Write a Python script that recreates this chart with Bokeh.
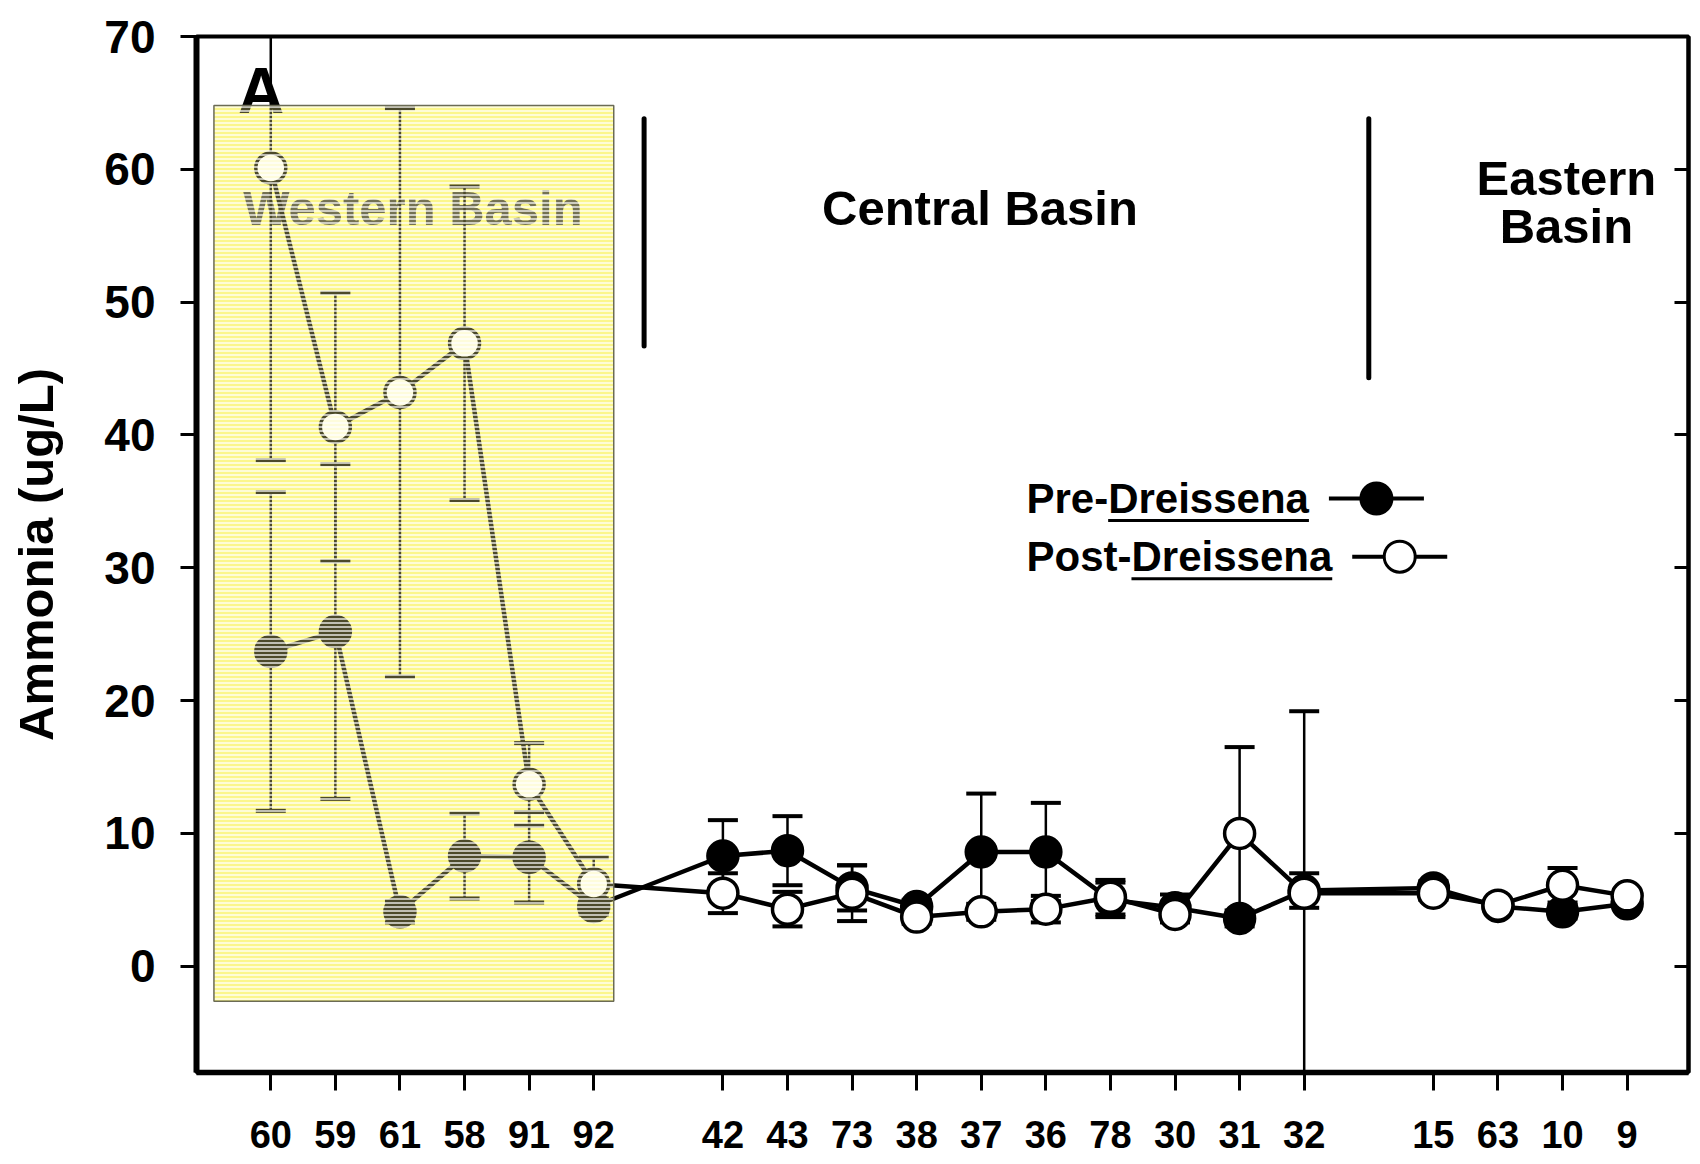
from bokeh.plotting import figure
from bokeh.models import ColumnDataSource, Range1d, FixedTicker, LinearAxis
from bokeh.core.properties import value
from bokeh.embed import file_html
from bokeh.resources import INLINE

# ---------------- data ----------------
west_stations = ["60", "59", "61", "58", "91", "92"]
central_stations = ["42", "43", "73", "38", "37", "36", "78", "30", "31", "32"]
east_stations = ["15", "63", "10", "9"]

pre_mean = [23.7, 25.2, 4.1, 8.3, 8.2, 4.5,
            8.3, 8.7, 5.9, 4.5, 8.6, 8.6, 5.0, 4.4, 3.6, 5.7,
            5.9, 4.5, 4.1, 4.7]
pre_sd = [12.0, 12.6, 0.8, 3.2, 3.4, 0.6,
          2.7, 2.6, 1.7, 0.5, 4.4, 3.7, 1.3, 1.0, 0.6, 1.3,
          0.5, 0.4, 0.5, 0.4]
post_mean = [60.1, 40.6, 43.2, 46.9, 13.7, 6.2,
             5.5, 4.3, 5.5, 3.7, 4.1, 4.3, 5.2, 3.9, 10.0, 5.5,
             5.5, 4.6, 6.1, 5.3]
post_sd = [22.0, 10.1, 21.4, 11.8, 3.1, 2.0,
           1.5, 1.3, 2.1, 0.5, 0.6, 1.0, 1.3, 0.6, 6.5, 13.7,
           0.5, 0.4, 1.3, 0.4]

y_ticks = [0, 10, 20, 30, 40, 50, 60, 70]
series_names = ["Pre-", "Post-"]
genus = "Dreissena"
y_label = "Ammonia (ug/L)"

# ---------------- layout ----------------
FONT = "Liberation Sans"
groups = [west_stations, central_stations, east_stations]
positions, stations = [], []
start = 0
for g in groups:
    for k, s in enumerate(g):
        positions.append(start + k)
        stations.append(s)
    start += len(g) + 1

X_RANGE = (-1.15, 21.95)
Y_RANGE = (-8.0, 70.0)
W, H = 1700, 1164
B_L, B_R, B_T, B_B = 196, 12, 36, 92
PX_X = (W - B_L - B_R) / (X_RANGE[1] - X_RANGE[0])
PX_Y = (H - B_T - B_B) / (Y_RANGE[1] - Y_RANGE[0])

p = figure(width=W, height=H, x_range=Range1d(*X_RANGE), y_range=Range1d(*Y_RANGE),
           output_backend="svg", toolbar_location=None,
           min_border_left=B_L, min_border_right=B_R, min_border_top=B_T, min_border_bottom=B_B)
p.background_fill_color = "white"
p.border_fill_color = "white"
p.outline_line_color = "black"
p.outline_line_width = 4
p.xgrid.grid_line_color = None
p.ygrid.grid_line_color = None

# x axis
xa = p.xaxis[0]
xa.ticker = FixedTicker(ticks=positions)
xa.major_label_overrides = {pos: name for pos, name in zip(positions, stations)}
xa.major_tick_out = 18
xa.major_tick_in = 0
xa.major_tick_line_width = 3
xa.minor_tick_line_color = None
xa.axis_line_width = 5.5
xa.major_label_standoff = 30
xa.major_label_text_font = FONT
xa.major_label_text_font_style = "bold"
xa.major_label_text_font_size = "38px"
xa.major_label_text_color = "black"

# y axis
ya = p.yaxis[0]
ya.ticker = FixedTicker(ticks=y_ticks)
ya.major_tick_out = 16
ya.major_tick_in = 0
ya.major_tick_line_width = 3
ya.minor_tick_line_color = None
ya.axis_line_width = 6
ya.major_label_standoff = 25
ya.major_label_text_font = FONT
ya.major_label_text_font_style = "bold"
ya.major_label_text_font_size = "46px"
ya.major_label_text_color = "black"
ya.axis_label = y_label
ya.axis_label_text_font = FONT
ya.axis_label_text_font_style = "bold"
ya.axis_label_text_font_size = "49px"
ya.axis_label_standoff = 38
ya.axis_label_text_color = "black"

ra = LinearAxis(ticker=FixedTicker(ticks=y_ticks), major_tick_in=14, major_tick_out=0,
                major_tick_line_width=3, minor_tick_line_color=None, axis_line_width=4,
                major_label_text_font_size="1px", major_label_text_color=None,
                major_label_standoff=0)
p.add_layout(ra, "right")

TEXT_STYLE = dict(text_font=value(FONT), text_font_style="bold", text_baseline="middle")

# ---------------- western basin box (underlay) ----------------
BOX = dict(left=[-0.88], right=[5.31], bottom=[-2.64], top=[64.8])
p.quad(**BOX, fill_color="#FBF68C", line_color=None)

# panel letter
p.text(x=[-0.15], y=[65.93], text=["A"], text_font_size="64px", text_align="center",
       text_color="black", **TEXT_STYLE)

# basin labels
p.text(x=[2.2, 10.98], y=[57.09, 57.09], text=["Western Basin", "Central Basin"],
       text_font_size="49px", text_align="center", text_color=["#3a3a3a", "black"],
       **TEXT_STYLE)
p.text(x=[20.06, 20.06], y=[59.31, 55.7], text=["Eastern", "Basin"],
       text_font_size="49px", text_align="center", text_color="black", **TEXT_STYLE)

# ---------------- series ----------------
CAP = 30 / PX_X


def make_source(mean, sd):
    return ColumnDataSource(dict(
        x=positions, y=mean,
        lo=[m - s for m, s in zip(mean, sd)],
        hi=[m + s for m, s in zip(mean, sd)],
        x0=[x - CAP / 2 for x in positions],
        x1=[x + CAP / 2 for x in positions],
    ))


pre_src = make_source(pre_mean, pre_sd)
post_src = make_source(post_mean, post_sd)

for src in (pre_src, post_src):
    p.line("x", "y", source=src, line_color="black", line_width=4.5, line_join="round")
for src in (pre_src, post_src):
    p.segment(x0="x", y0="lo", x1="x", y1="hi", source=src, line_color="black", line_width=2.5)
    p.segment(x0="x0", y0="hi", x1="x1", y1="hi", source=src, line_color="black", line_width=4)
    p.segment(x0="x0", y0="lo", x1="x1", y1="lo", source=src, line_color="black", line_width=4)

p.scatter("x", "y", source=pre_src, marker="circle", size=30, fill_color="black",
          line_color="black", line_width=3.5)
p.scatter("x", "y", source=post_src, marker="circle", size=30, fill_color="white",
          line_color="black", line_width=3.5)

# ---------------- western basin box (overlay) ----------------
p.quad(**BOX, fill_color="#FBF68C", fill_alpha=0.3, line_color="#6b6b55", line_width=1.5,
       hatch_pattern="horizontal_line", hatch_color="white", hatch_weight=1.3, hatch_scale=4)

# basin separators
SEP_X = [5.78, 17.0]
SEP_TOP = [63.8, 63.8]
SEP_BOTTOM = [46.7, 44.3]
p.segment(x0=SEP_X, y0=SEP_BOTTOM, x1=SEP_X, y1=SEP_TOP, line_color="black",
          line_width=5, line_cap="round")

# ---------------- legend ----------------
ADV = {"P": .667, "r": .389, "e": .556, "-": .333, "D": .722, "i": .278, "s": .556,
       "n": .611, "a": .556, "o": .611, "t": .333}


def text_w(s, size):
    return sum(ADV[c] for c in s) * size


LEG_SIZE = 42
LEG_X = 11.70
LEG_MID = [35.21, 30.84]
UL_BELOW = 22
fills = ["black", "white"]
for name, mid, fill in zip(series_names, LEG_MID, fills):
    label = name + genus
    p.text(x=[LEG_X], y=[mid], text=[label], text_font_size=f"{LEG_SIZE}px",
           text_align="left", text_color="black", **TEXT_STYLE)
    u0 = LEG_X + text_w(name, LEG_SIZE) / PX_X
    u1 = LEG_X + text_w(label, LEG_SIZE) / PX_X
    uy = mid - UL_BELOW / PX_Y
    p.segment(x0=[u0], y0=[uy], x1=[u1], y1=[uy], line_color="black", line_width=3)
    l0 = u1 + 20 / PX_X
    l1 = l0 + 95 / PX_X
    p.segment(x0=[l0], y0=[mid], x1=[l1], y1=[mid], line_color="black", line_width=4)
    p.scatter(x=[(l0 + l1) / 2], y=[mid], marker="circle", size=31, fill_color=fill,
              line_color="black", line_width=3)

open("out.html", "w").write(file_html(p, INLINE))
